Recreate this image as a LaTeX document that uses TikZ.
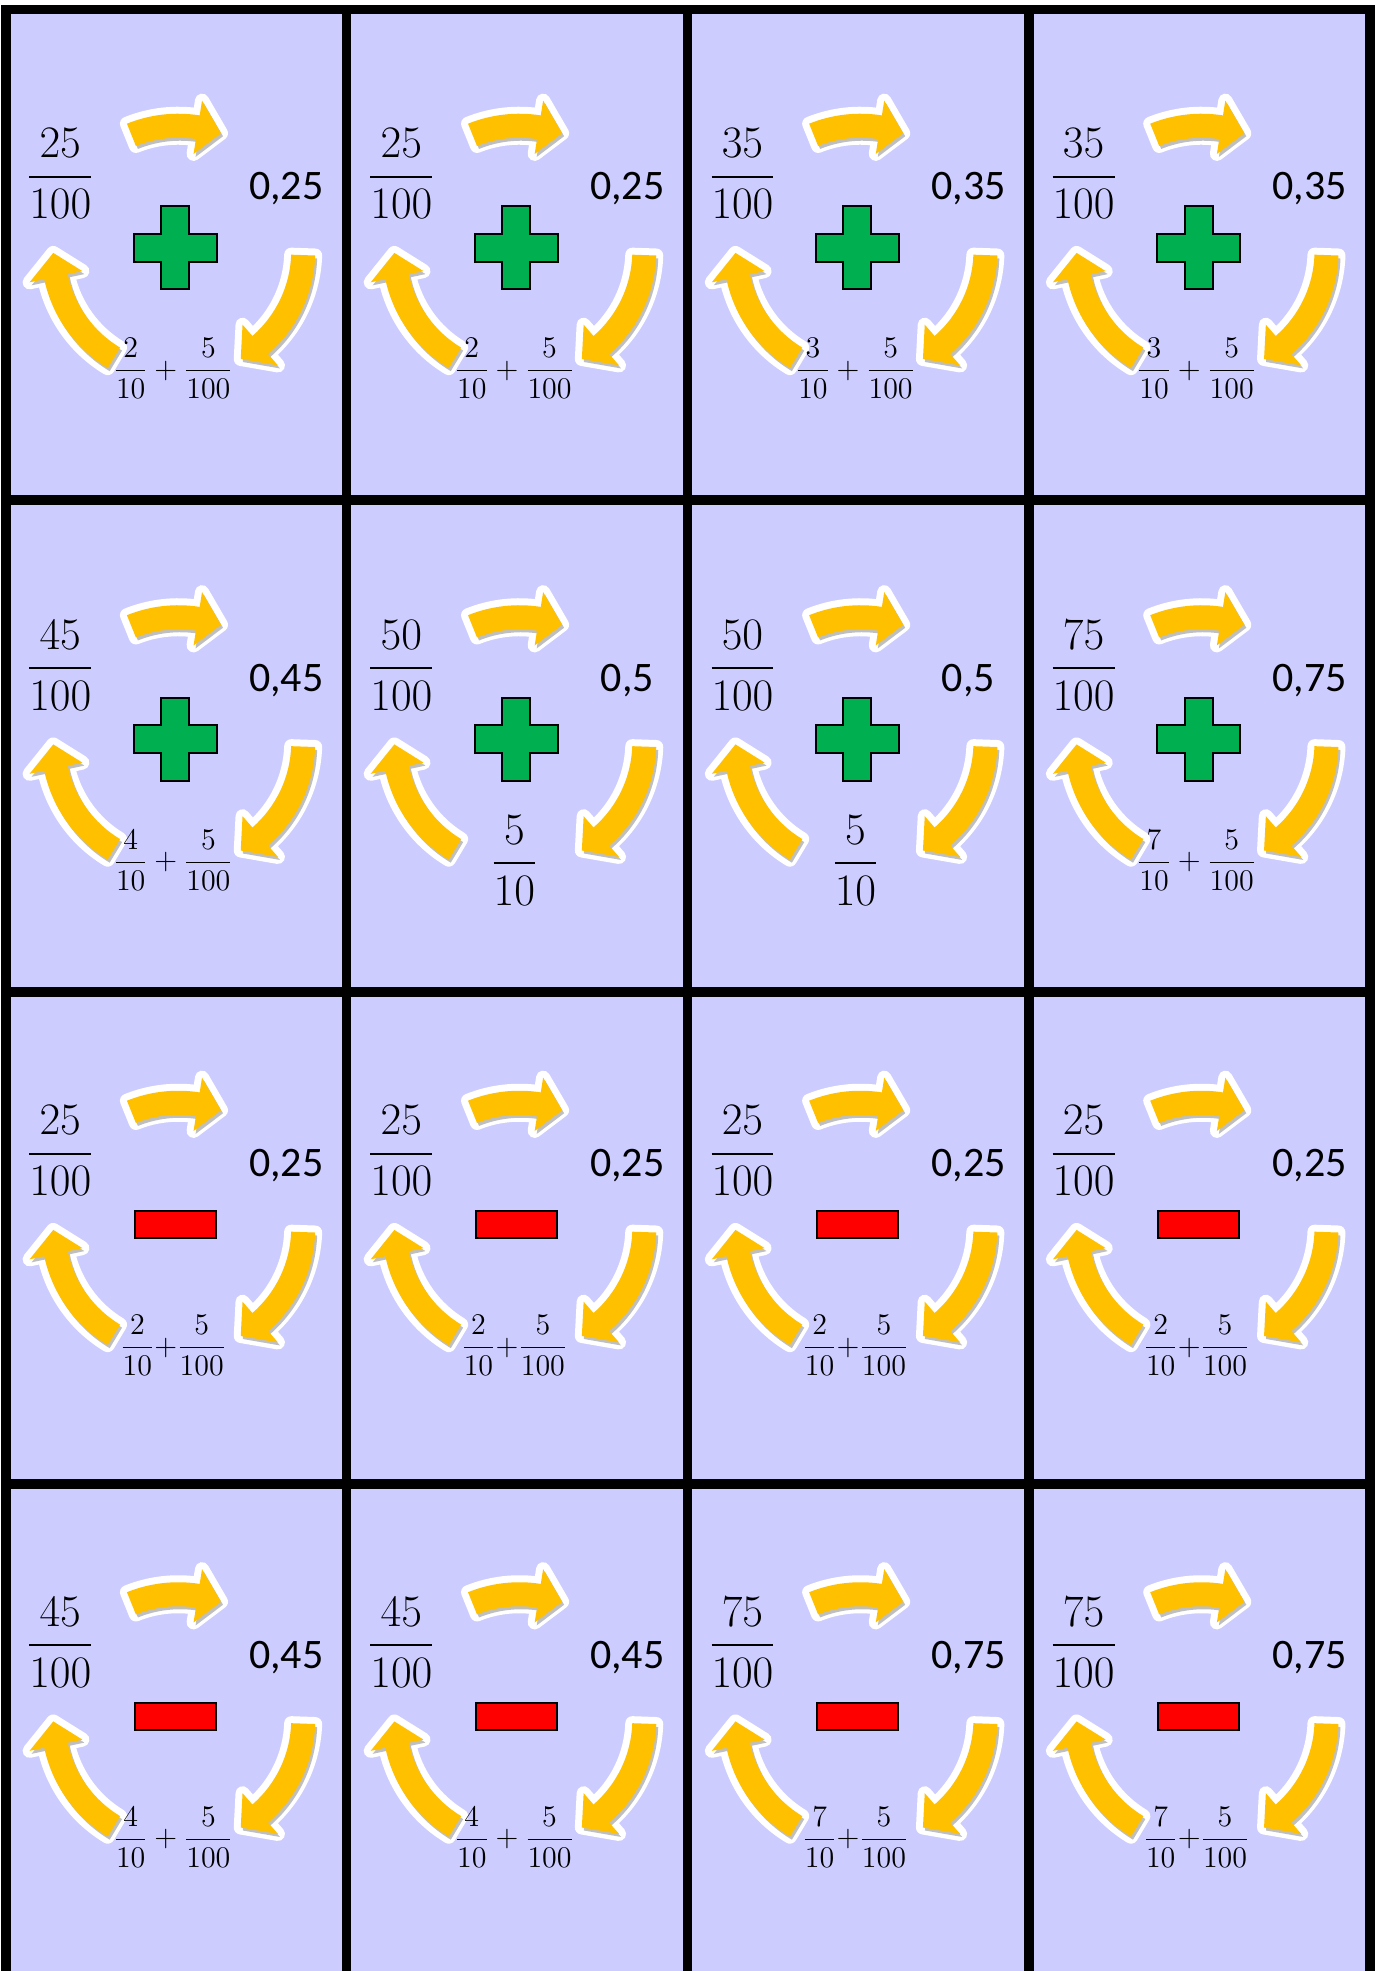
\RequirePackage{fix-cm}
\documentclass[tikz,border=0pt]{standalone}
\usepackage{fontspec}
\usepackage{amsmath}
\newfontfamily\decfont{Carlito}
\definecolor{CardBlue}{RGB}{204,204,255}
\definecolor{ArrowGold}{RGB}{255,192,0}
\definecolor{PlusGreen}{RGB}{0,176,80}
\definecolor{MinusRed}{RGB}{255,0,0}

% one curved piece of the cycle: tail angle, tip angle, look
\newcommand{\arrowpiece}[3]{%
  \path[shift={(2,4)}, #3] (#1:137) arc[start angle=#1, end angle=\headang, radius=137]
    -- (\headang:152) -- (#2:125) -- (\headang:98) -- (\headang:113)
    arc[start angle=\headang, end angle=#1, radius=113] -- cycle;}
\newcommand{\cyclearrow}[2]{%
  \pgfmathsetmacro{\headang}{#2+11}%
  \arrowpiece{#1}{#2}{arrglow}%
  \arrowpiece{#1}{#2}{arrshadow}%
  \arrowpiece{#1}{#2}{arrfill}}

\begin{document}
\begin{tikzpicture}[
    x=0.5pt, y=0.5pt,
    gridline/.style={line width=4.75pt, line cap=rect},
    bigfrac/.style={font=\fontsize{22.5}{27}\selectfont, inner sep=0pt},
    decnum/.style={font=\decfont\fontsize{21}{25}\selectfont, inner sep=0pt},
    smallfrac/.style={font=\fontsize{15}{18}\selectfont, inner sep=0pt},
    plusbox/.style={fill=PlusGreen, draw=black, line width=1pt},
    minusbox/.style={fill=MinusRed, draw=black, line width=1pt},
    arrglow/.style={draw=white, fill=white, line width=7pt, line join=round},
    arrshadow/.style={fill=black!55, opacity=.45, shift={(2,-3)}},
    arrfill/.style={fill=ArrowGold}
  ]
  \useasboundingbox (0,0) rectangle (1375,1971);
  \clip (0,0) rectangle (1375,1971);
  % card background
  \fill[CardBlue] (6,-20) rectangle (1370,1962);
  % cards: column/row/fraction/decimal/tenths/sign/bottom kind
  \foreach \col/\row/\num/\dec/\tens/\sgn/\kind in {
      0/0/25/25/2/1/0, 1/0/25/25/2/1/0, 2/0/35/35/3/1/0, 3/0/35/35/3/1/0,
      0/1/45/45/4/1/0, 1/1/50/5/5/1/2,  2/1/50/5/5/1/2,  3/1/75/75/7/1/0,
      0/2/25/25/2/0/1, 1/2/25/25/2/0/1, 2/2/25/25/2/0/1, 3/2/25/25/2/0/1,
      0/3/45/45/4/0/0, 1/3/45/45/4/0/0, 2/3/75/75/7/0/1, 3/3/75/75/7/0/1}{
    \pgfmathsetmacro{\cx}{176.25+341.1*\col}
    \pgfmathsetmacro{\cy}{1716.25-491.5*\row+(\row>1)*6}
    \begin{scope}[shift={(\cx,\cy)}]
      \cyclearrow{112}{70}
      \cyclearrow{-2}{-60}
      \cyclearrow{239}{181}
      \node[bigfrac] (fr\row\col) at (-116,81) {$\dfrac{\num}{100}$};
      \node[decnum, anchor=base] (dc\row\col) at (110,55) {0,\dec};
      \ifnum\sgn=1
        \draw[plusbox, shift={(-1,7)}] (-14,41.5) -- (14,41.5) -- (14,14) -- (41.5,14)
          -- (41.5,-14) -- (14,-14) -- (14,-41.5) -- (-14,-41.5) -- (-14,-14)
          -- (-41.5,-14) -- (-41.5,14) -- (-14,14) -- cycle;
      \else
        \draw[minusbox, shift={(-1,7)}] (-40.5,-13.5) rectangle (40.5,13.5);
      \fi
      \node[smallfrac] (sm\row\col) at (-3,-114) {\ifcase\kind
          $\dfrac{\tens}{10}+\dfrac{5}{100}$\or
          $\dfrac{\tens}{10}{+}\dfrac{5}{100}$\or
          {\fontsize{22.5}{27}\selectfont$\dfrac{5}{10}$}\fi};
    \end{scope}
  }
  % grid lines
  \foreach \x in {6,346.5,687.5,1029,1370}
    \draw[gridline] (\x,1961.5) -- (\x,-20);
  \foreach \y in {1961.5,1471,979,487}
    \draw[gridline] (6,\y) -- (1370,\y);
\end{tikzpicture}
\end{document}
